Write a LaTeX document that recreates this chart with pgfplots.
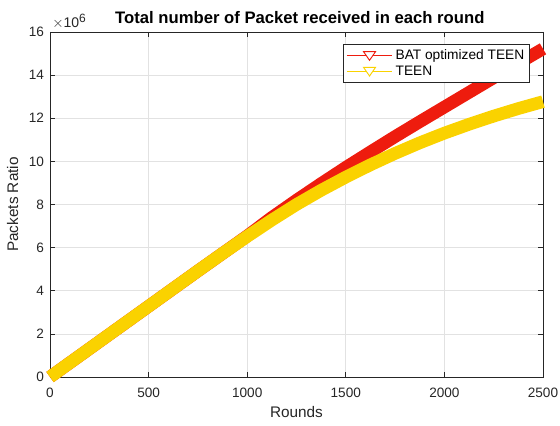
\documentclass[border=0pt]{standalone}
\usepackage{pgfplots}
\pgfplotsset{compat=1.18}
\usepackage{fontspec}
\setmainfont{Liberation Sans}
\definecolor{mred}{RGB}{238,28,14}
\definecolor{myel}{RGB}{250,210,0}
\definecolor{axgray}{RGB}{38,38,38}
\definecolor{gridgray}{RGB}{226,226,226}
\begin{document}
\begin{tikzpicture}
\begin{axis}[
  at={(0,0)}, anchor=south west,
  scale only axis,
  width=369.75pt, height=258.75pt,
  xmin=0, xmax=2500, ymin=0, ymax=16,
  xtick={0,500,1000,1500,2000,2500},
  ytick={0,2,4,6,8,10,12,14,16},
  grid=major,
  major grid style={draw=gridgray, line width=0.5pt},
  axis line style={draw=axgray, line width=0.6pt},
  tick style={draw=axgray, line width=0.5pt},
  tick align=inside,
  major tick length=4pt,
  ticklabel style={font=\fontsize{10.2}{12}\selectfont, text=axgray},
  /pgf/number format/assume math mode=true,
  /pgf/number format/1000 sep={},
  xticklabel style={yshift=-4.5pt},
  yticklabel style={xshift=-1pt},
  xlabel={Rounds},
  ylabel={Packets Ratio},
  xlabel style={font=\fontsize{11.5}{13}\selectfont, text=axgray, at={(axis description cs:0.5,0)}, anchor=center, yshift=-26.5pt},
  ylabel style={font=\fontsize{11.5}{13}\selectfont, text=axgray, at={(axis description cs:0,0.5)}, anchor=center, yshift=28pt},
  title={\bfseries Total number of Packet received in each round},
  title style={font=\fontsize{12.5}{14}\selectfont, at={(axis description cs:0.5,1)}, anchor=base, yshift=0.5pt, xshift=2.5pt},
  clip=false,
  legend style={at={(rel axis cs:1,1)}, anchor=north east, xshift=-9.75pt, yshift=-9pt,
    draw=axgray, line width=0.5pt, fill=white, font=\fontsize{10.3}{12}\selectfont,
    inner xsep=2pt, inner ysep=2pt, row sep=-1pt},
  legend cell align=left,
]
\addlegendimage{legend image code/.code={%
    \draw[draw=mred, line width=1.1pt] (0pt,0pt) -- (34pt,0pt);
    \draw[draw=mred, line width=0.7pt, fill=white] (12.5pt,3pt) -- (21.5pt,3pt) -- (17pt,-3.5pt) -- cycle;}}
\addlegendentry{BAT optimized TEEN}
\addlegendimage{legend image code/.code={%
    \draw[draw=myel, line width=1.1pt] (0pt,0pt) -- (34pt,0pt);
    \draw[draw=myel, line width=0.7pt, fill=white] (12.5pt,3pt) -- (21.5pt,3pt) -- (17pt,-3.5pt) -- cycle;}}
\addlegendentry{TEEN}

\addplot[mred, line width=9.5pt, line cap=butt, line join=round, forget plot] coordinates {
(0,0) (125,0.82) (250,1.64) (375,2.46) (500,3.28) (625,4.10) (750,4.92) (875,5.73) (1000,6.54)
(1125,7.40) (1250,8.20) (1375,8.97) (1500,9.72) (1625,10.44) (1750,11.15) (1875,11.84)
(2000,12.52) (2125,13.20) (2250,13.88) (2375,14.55) (2500,15.22)
};
\addplot[myel, line width=9.5pt, line cap=butt, line join=round, forget plot] coordinates {
(0,0) (125,0.82) (250,1.64) (375,2.46) (500,3.28) (625,4.10) (750,4.92) (875,5.73) (1000,6.52)
(1125,7.28) (1250,8.00) (1375,8.66) (1500,9.27) (1625,9.84) (1750,10.37) (1875,10.86)
(2000,11.31) (2125,11.72) (2250,12.10) (2375,12.45) (2500,12.77)
};
\node[anchor=base west, font=\fontsize{10.5}{12}\selectfont, text=axgray, inner sep=0pt]
  at (rel axis cs:0,1) [xshift=1.5pt, yshift=3pt] {$\times$10$^{\mbox{\fontsize{9}{10}\selectfont 6}}$};
\end{axis}
\pgfresetboundingbox
\path[use as bounding box] (-37.5pt,-36pt) rectangle (382.5pt,282.75pt);
\end{tikzpicture}
\end{document}
